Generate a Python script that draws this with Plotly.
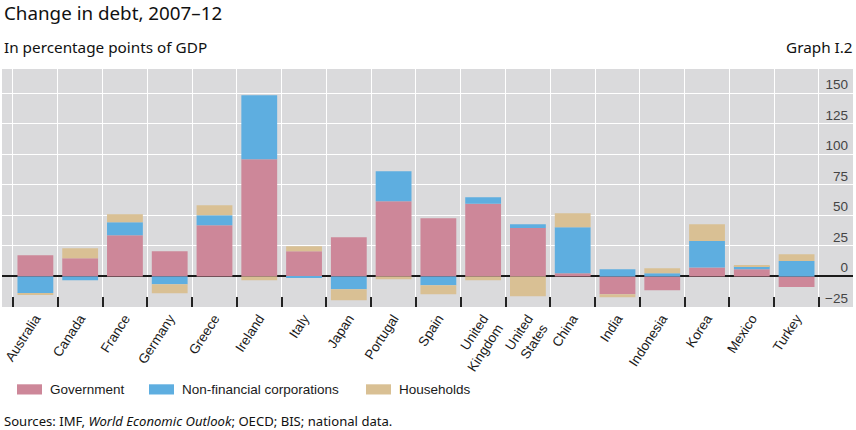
import plotly.graph_objects as go

countries = ["Australia", "Canada", "France", "Germany", "Greece", "Ireland", "Italy",
             "Japan", "Portugal", "Spain", "United<br>Kingdom", "United<br>States",
             "China", "India", "Indonesia", "Korea", "Mexico", "Turkey"]
government = [17.5, 15.0, 33.8, 20.7, 42.0, 96.1, 20.7, 32.2, 61.7, 47.8, 59.5, 39.8,
              2.7, -14.5, -11.2, 7.4, 6.0, -8.7]
nonfin_corp = [-13.6, -3.0, 10.6, -6.3, 8.2, 52.4, -1.1, -10.4, 24.6, -7.1, 5.5, 3.0,
               37.7, 6.0, 2.7, 21.6, 2.5, 12.6]
households = [-1.6, 8.2, 6.6, -7.4, 8.2, -3.0, 4.1, -9.0, -2.2, -7.4, -3.0, -16.1,
              11.5, -2.5, 4.1, 13.9, 0.8, 5.7]
y_ticks = [-25, 0, 25, 50, 75, 100, 125, 150]
y_tick_labels = ["\u221225", "0", "25", "50", "75", "100", "125", "150"]
series_names = ["Government", "Non-financial corporations", "Households"]
colors = ["#CD8799", "#5EAEE0", "#D9C094"]

W, H = 856, 430
ML, MR, MT, MB = 2, 3, 69, 123
PW, PH = W - ML - MR, H - MT - MB


def px_x(px):
    return (px - ML) / PW


def px_y(py):
    return (H - MB - py) / PH


fig = go.Figure()
for name, vals, col in zip(series_names, [government, nonfin_corp, households], colors):
    fig.add_trace(go.Bar(x=countries, y=vals, name=name, marker_color=col,
                         marker_line_width=0, width=0.8, showlegend=False))

fig.update_layout(
    width=W, height=H, barmode="relative",
    margin=dict(l=ML, r=MR, t=MT, b=MB),
    plot_bgcolor="#DADADC", paper_bgcolor="white",
    font=dict(family="Liberation Sans, Arial, sans-serif", size=13.5, color="#1a1a1a"),
)
fig.update_xaxes(
    type="category", range=[-0.7455, 18.26], tickson="boundaries",
    showgrid=True, gridcolor="white", gridwidth=1.3,
    ticks="inside", ticklen=10, tickwidth=1.5, tickcolor="#222",
    tickangle=-57, tickfont=dict(size=13.5), showline=False, zeroline=False,
)
fig.update_yaxes(
    range=[-25, 170], tickvals=y_ticks, ticktext=y_tick_labels, side="right",
    ticklabelposition="inside", ticklabelshift=-9, ticklabelstandoff=2,
    showgrid=True, gridcolor="white", gridwidth=1.3,
    zeroline=True, zerolinecolor="#1a1a1a", zerolinewidth=1.5, showline=False,
)

# legend drawn manually
leg = [(17, 48), (149, 180), (366, 397)]
for (sx, tx), name, col in zip(leg, series_names, colors):
    fig.add_shape(type="rect", xref="paper", yref="paper",
                  x0=px_x(sx), x1=px_x(sx + 25), y0=px_y(394.5), y1=px_y(384.3),
                  fillcolor=col, line_width=0)
    fig.add_annotation(xref="paper", yref="paper", x=px_x(tx), y=px_y(389.5),
                       text=name, showarrow=False, xanchor="left", yanchor="middle",
                       font=dict(size=13.5))

hdr_font = "Noto Sans, Open Sans, sans-serif"
fig.add_annotation(xref="paper", yref="paper", x=px_x(2), y=px_y(13),
                   text="Change in debt, 2007\u201312", showarrow=False,
                   xanchor="left", yanchor="middle",
                   font=dict(family=hdr_font, size=18.8, color="#111"))
fig.add_annotation(xref="paper", yref="paper", x=px_x(2), y=px_y(47),
                   text="In percentage points of GDP", showarrow=False,
                   xanchor="left", yanchor="middle",
                   font=dict(family=hdr_font, size=15.3, color="#111"))
fig.add_annotation(xref="paper", yref="paper", x=px_x(855), y=px_y(47),
                   text="Graph I.2", showarrow=False,
                   xanchor="right", yanchor="middle",
                   font=dict(family=hdr_font, size=15.3, color="#111"))
fig.add_annotation(xref="paper", yref="paper", x=px_x(2), y=px_y(421),
                   text="Sources: IMF, <i>World Economic Outlook</i>; OECD; BIS; national data.",
                   showarrow=False, xanchor="left", yanchor="middle",
                   font=dict(family=hdr_font, size=13.1, color="#111"))

fig.write_html("out.html", config={"displayModeBar": False},
               post_script="document.body.style.margin='0';")
